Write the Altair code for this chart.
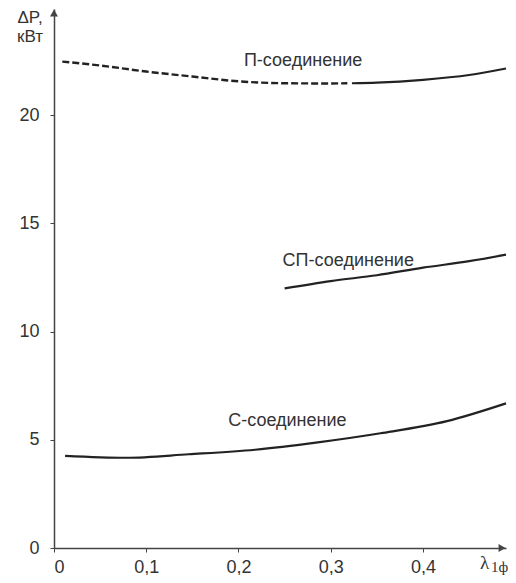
import altair as alt
import pandas as pd

# Data
p_dash_x = [0.009, 0.05, 0.10, 0.15, 0.20, 0.25, 0.30, 0.318]
p_dash_y = [22.47, 22.29, 22.01, 21.78, 21.56, 21.47, 21.46, 21.47]
p_solid_x = [0.323, 0.35, 0.40, 0.45, 0.49]
p_solid_y = [21.47, 21.50, 21.63, 21.85, 22.15]
sp_x = [0.25, 0.30, 0.35, 0.40, 0.45, 0.49]
sp_y = [11.99, 12.33, 12.60, 12.95, 13.25, 13.55]
c_x = [0.012, 0.078, 0.146, 0.218, 0.286, 0.354, 0.426, 0.49]
c_y = [4.26, 4.17, 4.33, 4.54, 4.88, 5.30, 5.86, 6.68]

label_text = ["П-соединение", "СП-соединение", "С-соединение"]
label_x = [0.270, 0.319, 0.253]
label_y = [22.50, 13.27, 5.86]

x_ticks = [0, 0.1, 0.2, 0.3, 0.4]
y_ticks = [0, 5, 10, 15, 20]
X_MAX = 0.49
Y_MAX = 24.9

FONT = "Liberation Sans"
INK = "#222222"
AX = "#444444"
TXT = "#333333"

xs = alt.Scale(domain=[0, X_MAX], nice=False, zero=False)
ys = alt.Scale(domain=[0, Y_MAX], nice=False)

xaxis = alt.Axis(values=x_ticks, grid=False, domainColor=AX, domainWidth=1.5,
                 tickColor=AX, tickSize=4, labelPadding=6, labelFont=FONT,
                 labelFontSize=18, labelColor=TXT, title=None,
                 labelExpr="datum.value == 0 ? '0' : replace(format(datum.value, '.1f'), '.', ',')")
yaxis = alt.Axis(values=y_ticks, grid=False, domainColor=AX, domainWidth=1.5,
                 tickColor=AX, tickSize=4, labelPadding=11, labelFont=FONT,
                 labelFontSize=18, labelColor=TXT, title=None)

def line_df(xv, yv):
    return pd.DataFrame({"x": xv, "y": yv})

p_dash = alt.Chart(line_df(p_dash_x, p_dash_y)).mark_line(
    color=INK, strokeWidth=2.4, strokeDash=[7, 3], interpolate="monotone"
).encode(x=alt.X("x:Q", scale=xs, axis=xaxis), y=alt.Y("y:Q", scale=ys, axis=yaxis))

p_solid = alt.Chart(line_df(p_solid_x, p_solid_y)).mark_line(
    color=INK, strokeWidth=2.2, interpolate="monotone"
).encode(x="x:Q", y="y:Q")

sp_line = alt.Chart(line_df(sp_x, sp_y)).mark_line(
    color=INK, strokeWidth=2.2, interpolate="monotone"
).encode(x="x:Q", y="y:Q")

c_line = alt.Chart(line_df(c_x, c_y)).mark_line(
    color=INK, strokeWidth=2.2, interpolate="monotone"
).encode(x="x:Q", y="y:Q")

labels = alt.Chart(pd.DataFrame({"t": label_text, "x": label_x, "y": label_y})).mark_text(
    font=FONT, fontSize=18, color=TXT, align="center", baseline="middle"
).encode(x="x:Q", y="y:Q", text="t:N")

one = pd.DataFrame({"a": [0]})
arrow_up = alt.Chart(one).mark_point(shape="triangle-up", filled=True, size=64,
                                     color=AX, opacity=1).encode(
    x=alt.value(0), y=alt.value(4))
arrow_right = alt.Chart(one).mark_point(shape="triangle-right", filled=True, size=64,
                                        color=AX, opacity=1).encode(
    x=alt.value(448), y=alt.value(539))

ytitle1 = alt.Chart(one).mark_text(font=FONT, fontSize=17, color=TXT,
                                   align="center", baseline="middle", text="ΔP,").encode(
    x=alt.value(-24), y=alt.value(9))
ytitle2 = alt.Chart(one).mark_text(font=FONT, fontSize=17, color=TXT,
                                   align="center", baseline="middle", text="кВт").encode(
    x=alt.value(-24), y=alt.value(28))
xtitle1 = alt.Chart(one).mark_text(font="Liberation Serif", fontSize=19, color=TXT,
                                   align="left", baseline="alphabetic", text="λ").encode(
    x=alt.value(426), y=alt.value(560))
xtitle2 = alt.Chart(one).mark_text(font="Liberation Serif", fontSize=15, color=TXT,
                                   align="left", baseline="alphabetic", text="1ф").encode(
    x=alt.value(437), y=alt.value(563))

chart = alt.layer(
    p_dash, p_solid, sp_line, c_line, labels,
    arrow_up, arrow_right, ytitle1, ytitle2, xtitle1, xtitle2
).properties(
    width=452, height=539,
    autosize=alt.AutoSizeParams(type="none"),
    padding={"left": 46, "top": 1, "right": 2, "bottom": 27}
).configure_view(stroke=None)

chart.save("out.html", embed_options={"renderer": "svg", "actions": False})
